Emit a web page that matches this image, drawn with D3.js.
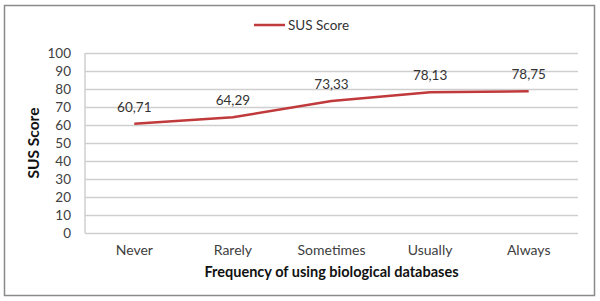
<!DOCTYPE html>
<html>
<head>
<meta charset="utf-8">
<script src="https://d3js.org/d3.v7.min.js"></script>
<style>
  body { margin: 0; background: #fff; }
  svg text { font-family: Lato, "Open Sans", sans-serif; }
</style>
</head>
<body>
<div id="chart"></div>
<script>
var categories = ["Never", "Rarely", "Sometimes", "Usually", "Always"];
var susScore = [60.71, 64.29, 73.33, 78.13, 78.75];
var valueLabels = ["60,71", "64,29", "73,33", "78,13", "78,75"];
var yTicks = [0, 10, 20, 30, 40, 50, 60, 70, 80, 90, 100];

function init(){
    var w = 600;
    var h = 301;
    var left = 85, right = 578, top = 53, bottom = 233;

    var svg = d3.select("#chart")
                .append("svg")
                .attr("width", w)
                .attr("height", h);

    // outer frame
    svg.append("rect")
        .attr("x", 4.5).attr("y", 5.5)
        .attr("width", 590).attr("height", 290)
        .attr("fill", "white")
        .attr("stroke", "#8a8a8a")
        .attr("stroke-width", 1.5);

    var xScale = d3.scaleBand()
                .domain(categories)
                .range([left, right]);

    var yScale = d3.scaleLinear()
                .domain([0, 100])
                .range([bottom, top]);

    // gridlines
    var yAxis = d3.axisLeft(yScale)
                .tickValues(yTicks)
                .tickSize(-(right - left))
                .tickPadding(14);

    var gy = svg.append("g")
        .attr("transform", "translate(" + left + ",0)")
        .call(yAxis);
    gy.select(".domain").remove();
    gy.selectAll(".tick line")
        .attr("stroke", "#cfcfcf")
        .attr("stroke-width", 1.5);
    gy.selectAll(".tick text")
        .attr("font-size", "13.5px")
        .attr("fill", "#404040");

    // left axis line
    svg.append("line")
        .attr("x1", left).attr("x2", left)
        .attr("y1", top).attr("y2", bottom)
        .attr("stroke", "#cfcfcf")
        .attr("stroke-width", 1.5);

    var xAxis = d3.axisBottom(xScale)
                .tickSize(0)
                .tickPadding(12);
    var gx = svg.append("g")
        .attr("transform", "translate(0," + bottom + ")")
        .call(xAxis);
    gx.select(".domain").remove();
    gx.selectAll(".tick text")
        .attr("font-size", "14px")
        .attr("fill", "#404040");

    var line = d3.line()
        .x(function(d, i){ return xScale(categories[i]) + xScale.bandwidth() / 2; })
        .y(function(d){ return yScale(d); });

    svg.append("path")
        .datum(susScore)
        .attr("d", line)
        .attr("fill", "none")
        .attr("stroke", "#c0393b")
        .attr("stroke-width", 2.5);

    svg.selectAll(".vlabel")
        .data(susScore)
        .enter()
        .append("text")
        .attr("class", "vlabel")
        .attr("x", function(d, i){ return xScale(categories[i]) + xScale.bandwidth() / 2; })
        .attr("y", function(d){ return yScale(d) - 12; })
        .attr("text-anchor", "middle")
        .attr("font-size", "13.5px")
        .attr("fill", "#333")
        .text(function(d, i){ return valueLabels[i]; });

    // axis titles
    svg.append("text")
        .attr("transform", "translate(39," + ((top + bottom) / 2) + ") rotate(-90)")
        .attr("text-anchor", "middle")
        .attr("font-size", "15.5px")
        .attr("font-weight", "bold")
        .attr("fill", "#111")
        .text("SUS Score");

    svg.append("text")
        .attr("x", (left + right) / 2)
        .attr("y", 277)
        .attr("text-anchor", "middle")
        .attr("font-size", "14.5px")
        .attr("font-weight", "bold")
        .attr("fill", "#111")
        .text("Frequency of using biological databases");

    // legend
    svg.append("line")
        .attr("x1", 254).attr("x2", 285)
        .attr("y1", 25).attr("y2", 25)
        .attr("stroke", "#c0393b")
        .attr("stroke-width", 2.5);
    svg.append("text")
        .attr("x", 288).attr("y", 30)
        .attr("font-size", "13.5px")
        .attr("fill", "#333")
        .text("SUS Score");
}

window.onload = init;
</script>
</body>
</html>
